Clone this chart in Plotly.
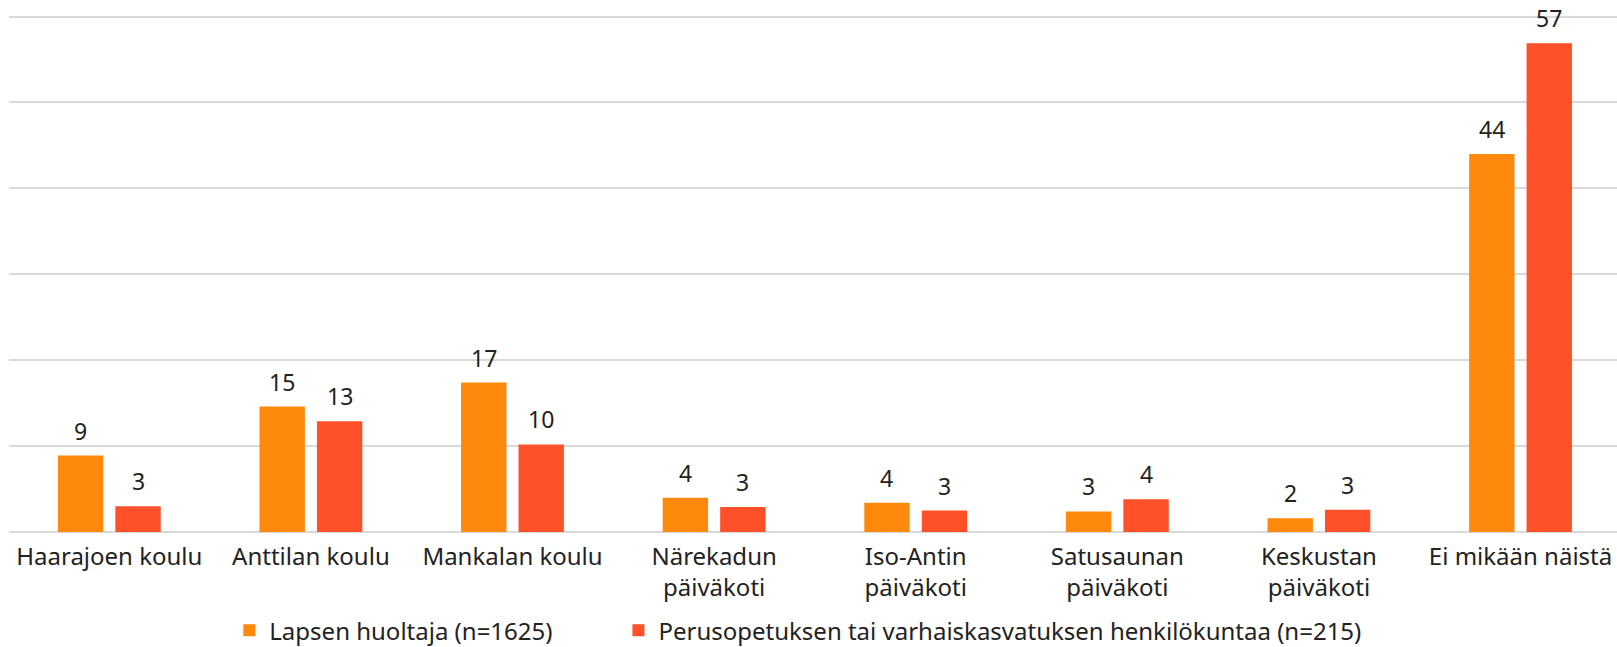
import plotly.graph_objects as go

categories = ["Haarajoen koulu", "Anttilan koulu", "Mankalan koulu", "Närekadun<br>päiväkoti",
              "Iso-Antin<br>päiväkoti", "Satusaunan<br>päiväkoti", "Keskustan<br>päiväkoti", "Ei mikään näistä"]
huoltaja = [8.9, 14.6, 17.4, 4.0, 3.4, 2.4, 1.6, 44.0]
henkilokunta = [3.0, 12.9, 10.2, 2.9, 2.5, 3.8, 2.6, 56.9]
huoltaja_labels = ["9", "15", "17", "4", "4", "3", "2", "44"]
henkilokunta_labels = ["3", "13", "10", "3", "3", "4", "3", "57"]
series_names = ["Lapsen huoltaja (n=1625)", "Perusopetuksen tai varhaiskasvatuksen henkilökuntaa (n=215)"]

c1 = "#FE890C"
c2 = "#FE5129"
font = "Noto Sans"
tc = "#222222"
fs = 23
fs_big = 24

bargap = 0.43
fig = go.Figure()
fig.add_bar(x=categories, y=huoltaja, name=series_names[0], marker_color=c1,
            marker_line_width=0, legend="legend")
fig.add_bar(x=categories, y=henkilokunta, name=series_names[1], marker_color=c2,
            marker_line_width=0, legend="legend2")

slot = (1 - bargap) / 2
for i, (a, b, la, lb) in enumerate(zip(huoltaja, henkilokunta, huoltaja_labels, henkilokunta_labels)):
    fig.add_annotation(x=i - slot / 2, y=a, text=la, showarrow=False, yanchor="bottom",
                       yshift=7, font=dict(size=fs, color=tc, family=font))
    fig.add_annotation(x=i + slot / 2, y=b, text=lb, showarrow=False, yanchor="bottom",
                       yshift=7, font=dict(size=fs, color=tc, family=font))

leg = dict(orientation="h", xanchor="left", y=-0.231, yanchor="bottom",
           font=dict(size=fs_big, color=tc, family=font), itemwidth=30, bgcolor="rgba(0,0,0,0)")
fig.update_layout(
    width=1617, height=647,
    margin=dict(l=9, r=0, t=8, b=115, autoexpand=False),
    paper_bgcolor="white", plot_bgcolor="white",
    barmode="group", bargap=bargap, bargroupgap=0.21,
    font=dict(family=font, size=fs, color=tc),
    showlegend=True,
    legend=dict(leg, x=0.137),
    legend2=dict(leg, x=0.379),
)
fig.update_xaxes(showline=False, ticks="", tickfont=dict(size=fs_big, color=tc, family=font),
                 showgrid=False, automargin=False, ticklabelstandoff=8, range=[-0.4975, 7.4785])
fig.update_yaxes(range=[0, 61], tickvals=[10, 20, 30, 40, 50, 60], showticklabels=False, showgrid=True,
                 gridcolor="#D9D9D9", gridwidth=1.5, zeroline=True, zerolinecolor="#D9D9D9",
                 zerolinewidth=1.5, automargin=False)

fig.write_html("out.html", config={"displayModeBar": False},
               post_script="document.body.style.margin='0';")
